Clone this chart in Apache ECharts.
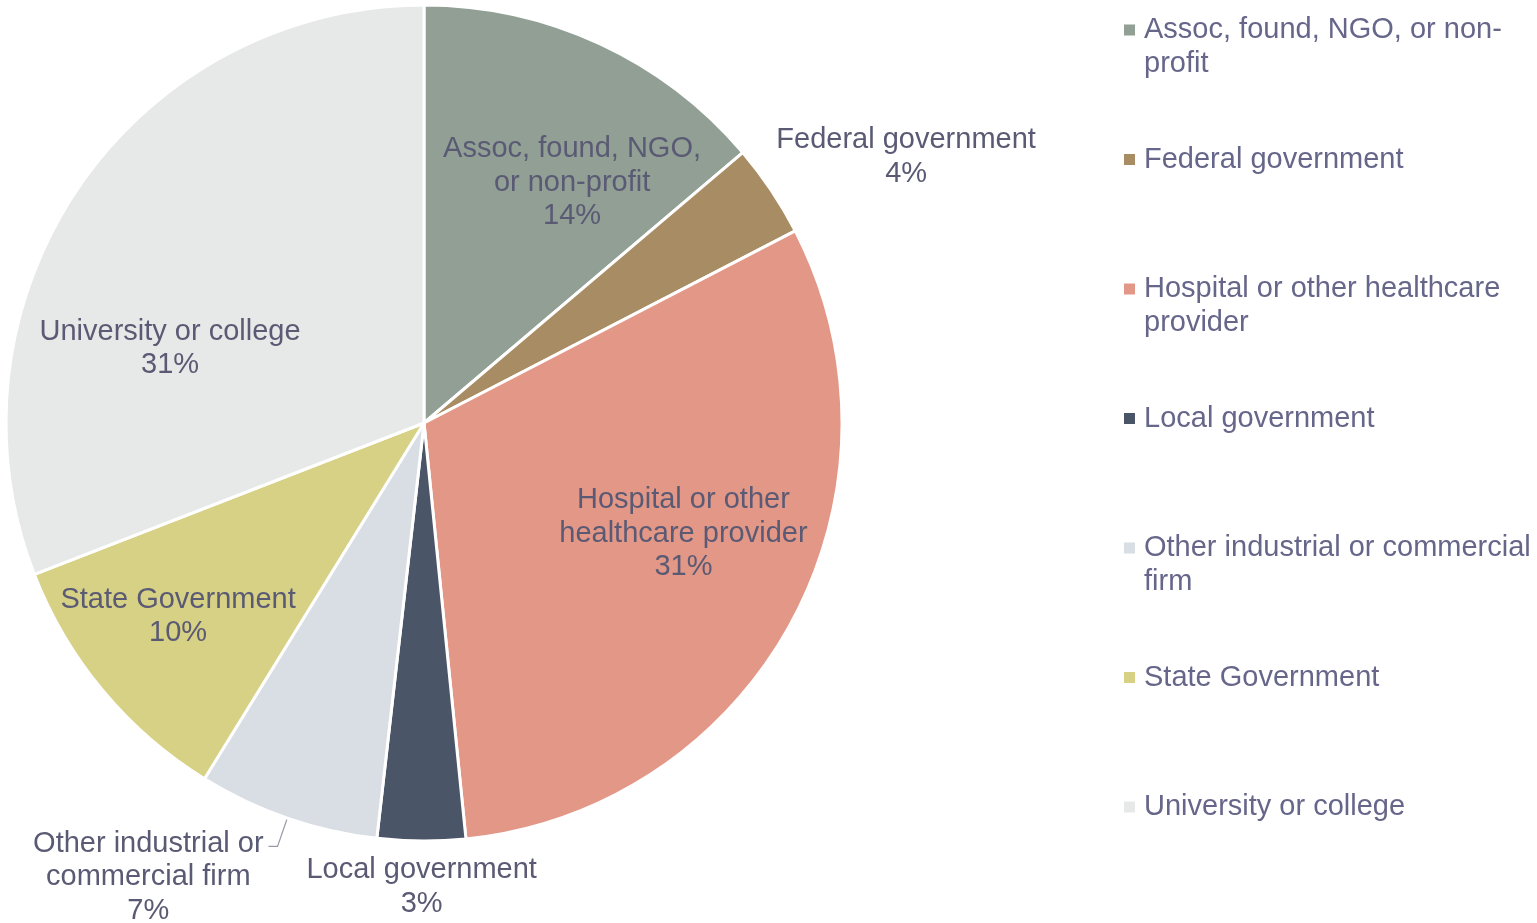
<!DOCTYPE html>
<html>
<head>
<meta charset="utf-8">
<title>Employer type</title>
<script src="https://cdn.jsdelivr.net/npm/echarts@6/dist/echarts.min.js"></script>
<style>
  html, body { margin: 0; padding: 0; background: #fff; }
  #chart { width: 1537px; height: 923px; }
</style>
</head>
<body>
<div id="chart"></div>
<script>
var categories = ['Assoc, found, NGO, or non-profit', 'Federal government', 'Hospital or other healthcare provider',
  'Local government', 'Other industrial or commercial firm', 'State Government', 'University or college']
// share of respondents, %
var shares = [13.8, 3.6, 31.0, 3.4, 7.0, 10.3, 30.9]
// how the names wrap on the slices and in the legend
var sliceNames = ['Assoc, found, NGO,\nor non-profit', 'Federal government', 'Hospital or other\nhealthcare provider',
  'Local government', 'Other industrial or\ncommercial firm', 'State Government', 'University or college']
var legendNames = ['Assoc, found, NGO, or non-\nprofit', 'Federal government', 'Hospital or other healthcare\nprovider',
  'Local government', 'Other industrial or commercial\nfirm', 'State Government', 'University or college']

var colors = ['#919f94', '#a88c64', '#e39787', '#4a5568', '#d9dee4', '#d6d184', '#e7e9e8']
// nudge of each slice label from its default spot (null = outside with leader line)
var labelShift = [[59, -48], [306, -148], [73, 10], [-1, 252], null, [-83, 58], [-79, 45]]

var FONT = "'Liberation Sans', Arial, sans-serif"
var LABEL_COLOR = '#5a5a74'

var total = shares.reduce(function (a, b) { return a + b }, 0)
function pct(v) { return Math.round(v / total * 100) + '%' }

var pieData = categories.map(function (name, i) {
  var item = { name: name, value: shares[i], itemStyle: { color: colors[i] } }
  if (labelShift[i] === null) {
    item.label = {
      position: 'outside',
      padding: [62, 0, 0, 0],
      formatter: function (p) {
        return sliceNames[p.dataIndex].split('\n').concat([pct(p.value)]).map(function (t) {
          return '{c|' + t + '}'
        }).join('\n')
      },
      rich: {
        c: { align: 'center', fontSize: 29, lineHeight: 33.5, color: LABEL_COLOR, fontFamily: FONT }
      }
    }
    item.labelLine = { show: true, length: 30, length2: 9, lineStyle: { color: '#9a9aa6', width: 1.2 } }
  }
  return item
})

var chart = echarts.init(document.getElementById('chart'))
chart.setOption({
  animation: false,
  textStyle: { fontFamily: FONT },
  legend: {
    orient: 'vertical',
    left: 1124,
    top: -21,
    padding: 0,
    itemGap: 27.5,
    itemWidth: 11,
    itemHeight: 11,
    icon: 'rect',
    selectedMode: false,
    itemStyle: { borderWidth: 0 },
    data: categories,
    // blank first line so the name's first line sits level with the square
    formatter: function (name) {
      var lines = legendNames[categories.indexOf(name)].split('\n')
      while (lines.length < 2) lines.push(' ')
      return [' '].concat(lines).join('\n')
    },
    textStyle: {
      fontFamily: FONT,
      fontSize: 29,
      lineHeight: 34,
      color: '#66668a',
      padding: [0, 0, 0, 4]
    }
  },
  series: [{
    type: 'pie',
    center: [424, 423],
    radius: 418,
    startAngle: 90,
    clockwise: true,
    avoidLabelOverlap: false,
    itemStyle: { borderColor: '#fff', borderWidth: 3 },
    emphasis: { disabled: true },
    label: {
      position: 'inside',
      fontFamily: FONT,
      fontSize: 29,
      lineHeight: 33.5,
      color: LABEL_COLOR,
      formatter: function (p) { return sliceNames[p.dataIndex] + '\n' + pct(p.value) }
    },
    labelLayout: function (params) {
      var s = labelShift[params.dataIndex]
      return s ? { dx: s[0], dy: s[1] } : {}
    },
    data: pieData
  }]
})
</script>
</body>
</html>
